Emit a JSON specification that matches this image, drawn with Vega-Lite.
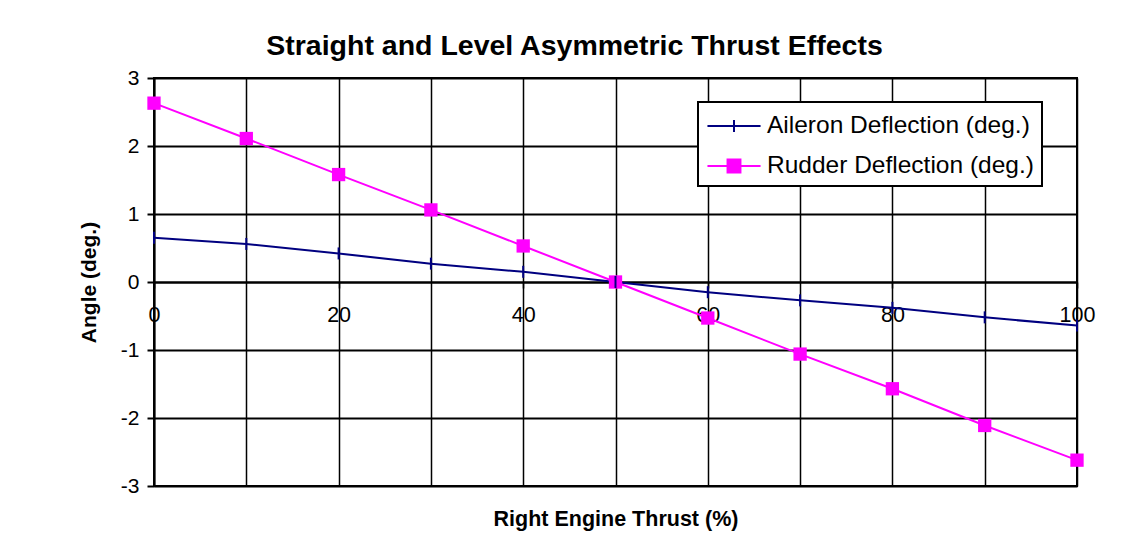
{
  "$schema": "https://vega.github.io/schema/vega-lite/v6.json",
  "width": 923,
  "height": 408,
  "autosize": "none",
  "padding": {"left": 154, "top": 78, "right": 55, "bottom": 52},
  "background": "white",
  "config": {
    "font": "Liberation Sans",
    "view": {"stroke": "black", "strokeWidth": 2}
  },
  "title": {
    "text": "Straight and Level Asymmetric Thrust Effects",
    "font": "Liberation Sans",
    "fontSize": 28.5,
    "fontWeight": "bold",
    "color": "black",
    "anchor": "middle",
    "dx": -41,
    "offset": 7
  },
  "data": {
    "values": [
      {"thrust": 0, "series": "Aileron Deflection (deg.)", "angle": 0.65},
      {"thrust": 10, "series": "Aileron Deflection (deg.)", "angle": 0.56},
      {"thrust": 20, "series": "Aileron Deflection (deg.)", "angle": 0.42},
      {"thrust": 30, "series": "Aileron Deflection (deg.)", "angle": 0.27},
      {"thrust": 40, "series": "Aileron Deflection (deg.)", "angle": 0.15},
      {"thrust": 50, "series": "Aileron Deflection (deg.)", "angle": 0.0},
      {"thrust": 60, "series": "Aileron Deflection (deg.)", "angle": -0.15},
      {"thrust": 70, "series": "Aileron Deflection (deg.)", "angle": -0.27},
      {"thrust": 80, "series": "Aileron Deflection (deg.)", "angle": -0.38},
      {"thrust": 90, "series": "Aileron Deflection (deg.)", "angle": -0.52},
      {"thrust": 100, "series": "Aileron Deflection (deg.)", "angle": -0.64},
      {"thrust": 0, "series": "Rudder Deflection (deg.)", "angle": 2.63},
      {"thrust": 10, "series": "Rudder Deflection (deg.)", "angle": 2.11},
      {"thrust": 20, "series": "Rudder Deflection (deg.)", "angle": 1.58},
      {"thrust": 30, "series": "Rudder Deflection (deg.)", "angle": 1.06},
      {"thrust": 40, "series": "Rudder Deflection (deg.)", "angle": 0.53},
      {"thrust": 50, "series": "Rudder Deflection (deg.)", "angle": 0.0},
      {"thrust": 60, "series": "Rudder Deflection (deg.)", "angle": -0.53},
      {"thrust": 70, "series": "Rudder Deflection (deg.)", "angle": -1.06},
      {"thrust": 80, "series": "Rudder Deflection (deg.)", "angle": -1.57},
      {"thrust": 90, "series": "Rudder Deflection (deg.)", "angle": -2.11},
      {"thrust": 100, "series": "Rudder Deflection (deg.)", "angle": -2.62}
    ]
  },
  "layer": [
    {
      "mark": {"type": "line", "strokeWidth": 2},
      "encoding": {
        "x": {
          "field": "thrust",
          "type": "quantitative",
          "scale": {"domain": [0, 100], "nice": false, "zero": false},
          "axis": {
            "orient": "bottom",
            "values": [0, 10, 20, 30, 40, 50, 60, 70, 80, 90, 100],
            "grid": true,
            "gridColor": "black",
            "gridWidth": 1.5,
            "gridOpacity": 1,
            "labels": false,
            "ticks": false,
            "domain": false,
            "title": "Right Engine Thrust (%)",
            "titleFont": "Liberation Sans",
            "titleFontSize": 21.5,
            "titleFontWeight": "bold",
            "titleColor": "black",
            "titlePadding": 22
          }
        },
        "y": {
          "field": "angle",
          "type": "quantitative",
          "scale": {"domain": [-3, 3], "nice": false, "zero": false},
          "axis": {
            "values": [-3, -2.5, -2, -1.5, -1, -0.5, 0, 0.5, 1, 1.5, 2, 2.5, 3],
            "grid": true,
            "gridColor": "black",
            "gridWidth": 2,
            "gridOpacity": 1,
            "domain": true,
            "domainColor": "black",
            "domainWidth": 2,
            "tickColor": "black",
            "tickSize": 7,
            "tickWidth": 2,
            "tickOpacity": {"condition": {"test": "datum.value % 1 !== 0", "value": 0}, "value": 1},
            "labelExpr": "datum.value % 1 === 0 ? '' + datum.value : ''",
            "labelFont": "Liberation Sans",
            "labelFontSize": 21,
            "labelColor": "black",
            "labelPadding": 8,
            "labelOverlap": false,
            "title": "Angle (deg.)",
            "titleFont": "Liberation Sans",
            "titleFontSize": 21,
            "titleFontWeight": "bold",
            "titleColor": "black",
            "titlePadding": 21
          }
        },
        "color": {
          "field": "series",
          "type": "nominal",
          "scale": {
            "domain": ["Aileron Deflection (deg.)", "Rudder Deflection (deg.)"],
            "range": ["#000080", "#FF00FF"]
          },
          "legend": {
            "orient": "none",
            "legendX": 544,
            "legendY": 24,
            "title": null,
            "labelFont": "Liberation Sans",
            "labelFontSize": 24.5,
            "labelColor": "black",
            "labelLimit": 400,
            "symbolSize": 900,
            "symbolStrokeWidth": 2,
            "padding": 8,
            "rowPadding": 12,
            "symbolOffset": 12,
            "labelOffset": 17,
            "strokeColor": "black",
            "fillColor": "white",
            "encode": {
              "legend": {"update": {"strokeWidth": {"value": 2}}},
              "symbols": {
                "update": {
                  "shape": {"signal": "datum.value === 'Rudder Deflection (deg.)' ? 'M-1.77,0H1.77M-0.43,-0.43H0.43V0.43H-0.43Z' : 'M-1.77,0H1.77M0,-0.4V0.4'"},
                  "fill": {"scale": "color", "field": "value"},
                  "stroke": {"scale": "color", "field": "value"},
                  "opacity": {"value": 1}
                }
              }
            }
          }
        }
      }
    },
    {
      "transform": [{"filter": "datum.series === 'Rudder Deflection (deg.)'"}],
      "mark": {"type": "point", "shape": "square", "filled": true, "size": 177, "opacity": 1, "color": "#FF00FF"},
      "encoding": {
        "x": {
          "field": "thrust",
          "type": "quantitative",
          "axis": {
            "orient": "bottom",
            "values": [0, 20, 40, 60, 80, 100],
            "offset": -204,
            "grid": false,
            "domain": true,
            "domainColor": "black",
            "domainWidth": 2,
            "ticks": true,
            "tickColor": "black",
            "tickSize": 6,
            "tickWidth": 1.5,
            "labelFont": "Liberation Sans",
            "labelFontSize": 21.5,
            "labelColor": "black",
            "labelPadding": 16,
            "labelFlush": false,
            "labelOverlap": false,
            "labelExpr": "'' + datum.value",
            "title": null
          }
        },
        "y": {"field": "angle", "type": "quantitative"}
      }
    },
    {
      "transform": [{"filter": "datum.series === 'Aileron Deflection (deg.)'"}],
      "mark": {"type": "point", "shape": "M0,-1V1", "filled": false, "size": 144, "strokeWidth": 2, "opacity": 1, "color": "#000080"},
      "encoding": {
        "x": {"field": "thrust", "type": "quantitative", "axis": null},
        "y": {"field": "angle", "type": "quantitative"}
      }
    }
  ],
  "resolve": {"axis": {"x": "independent"}}
}
